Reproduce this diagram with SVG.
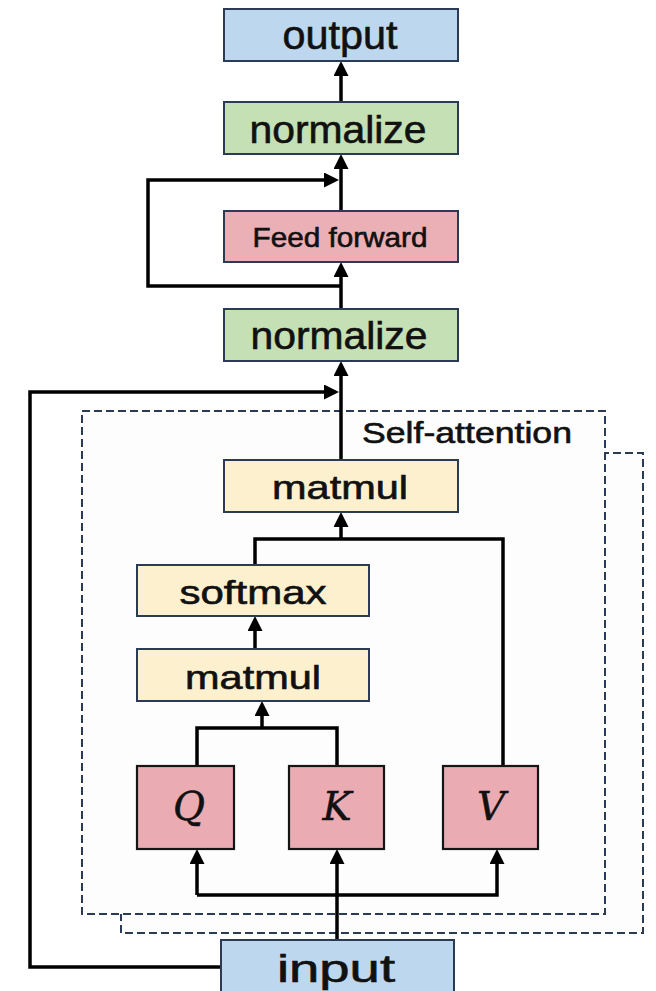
<svg xmlns="http://www.w3.org/2000/svg" width="656" height="991" viewBox="0 0 656 991">
  <defs>
    <marker id="arrow" markerUnits="userSpaceOnUse" markerWidth="15" markerHeight="15" viewBox="0 0 15 15" refX="7" refY="7.5" orient="auto">
      <path d="M0,0 L15,7.5 L0,15 Z" fill="#000"/>
    </marker>
    <style>
      .box { stroke: #2b3a55; stroke-width: 2; }
      .blue { fill: #bdd7ee; }
      .green { fill: #c5e0b4; }
      .pink { fill: #ebafb6; }
      .yellow { fill: #fdf0cf; }
      .qkv { fill: #eaabb2; stroke: #151515; stroke-width: 2.2; }
      .dash { fill: #fdfdfd; stroke: #2b3a55; stroke-width: 2; stroke-dasharray: 8 4; }
      .label { font-family: "Liberation Sans", Arial, sans-serif; fill: #111; stroke: #111; stroke-width: 0.6; text-anchor: middle; }
      .math { font-family: "DejaVu Serif", "Liberation Serif", serif; font-style: italic; fill: #111; stroke: #111; stroke-width: 0.5; text-anchor: middle; font-size: 39px; }
      .wire { fill: none; stroke: #000; stroke-width: 3.5; stroke-linejoin: miter; }
      .arr { marker-end: url(#arrow); }
    </style>
  </defs>
  <rect width="656" height="991" fill="#fff"/>

  <!-- stacked attention heads -->
  <g id="heads">
    <rect class="dash" x="121" y="453" width="522" height="480"/>
    <rect class="dash" x="82" y="411" width="523" height="503"/>
    <text class="label" x="362" y="443" font-size="29" style="text-anchor:start" textLength="210" lengthAdjust="spacingAndGlyphs">Self-attention</text>
  </g>

  <g id="connectors">
    <!-- encoder stack -->
    <path class="wire arr" d="M341,102 V69"/>
    <path class="wire arr" d="M341,211 V162"/>
    <path class="wire arr" d="M341,286 H148 V180 H331"/>
    <path class="wire arr" d="M341,309 V270"/>
    <path class="wire arr" d="M341,460 V369"/>
    <path class="wire arr" d="M221,967 H30 V392 H331"/>
    <!-- attention -->
    <path class="wire" d="M255,565 V539 H503 V766"/>
    <path class="wire arr" d="M341,539 V520"/>
    <path class="wire arr" d="M255,649 V624"/>
    <path class="wire" d="M197,766 V728 H337 V766"/>
    <path class="wire arr" d="M262,728 V709"/>
    <path class="wire arr" d="M337,940 V857"/>
    <path class="wire arr" d="M197,895 H497 V857"/>
    <path class="wire arr" d="M197,895 V857"/>
  </g>

  <g id="output">
    <rect class="box blue" x="224" y="9" width="234" height="52"/>
    <text class="label" x="340" y="49" font-size="40" textLength="115" lengthAdjust="spacingAndGlyphs">output</text>
  </g>
  <g id="normalize-top">
    <rect class="box green" x="224" y="102" width="234" height="52"/>
    <text class="label" x="338" y="143" font-size="38" textLength="177" lengthAdjust="spacingAndGlyphs">normalize</text>
  </g>
  <g id="feed-forward">
    <rect class="box pink" x="224" y="211" width="234" height="51"/>
    <text class="label" x="340" y="247" font-size="27" textLength="175" lengthAdjust="spacingAndGlyphs">Feed forward</text>
  </g>
  <g id="normalize-bottom">
    <rect class="box green" x="224" y="309" width="234" height="52"/>
    <text class="label" x="339" y="349" font-size="38" textLength="177" lengthAdjust="spacingAndGlyphs">normalize</text>
  </g>
  <g id="matmul-out">
    <rect class="box yellow" x="224" y="460" width="234" height="52"/>
    <text class="label" x="340" y="499" font-size="33" textLength="136" lengthAdjust="spacingAndGlyphs">matmul</text>
  </g>
  <g id="softmax">
    <rect class="box yellow" x="137" y="565" width="232" height="51"/>
    <text class="label" x="253" y="604" font-size="33" textLength="147" lengthAdjust="spacingAndGlyphs">softmax</text>
  </g>
  <g id="matmul-qk">
    <rect class="box yellow" x="137" y="649" width="232" height="52"/>
    <text class="label" x="253" y="689" font-size="33" textLength="136" lengthAdjust="spacingAndGlyphs">matmul</text>
  </g>
  <g id="q">
    <rect class="qkv" x="137" y="766" width="97" height="83"/>
    <text class="math" x="189" y="820">Q</text>
  </g>
  <g id="k">
    <rect class="qkv" x="289" y="766" width="95" height="83"/>
    <text class="math" x="337" y="820">K</text>
  </g>
  <g id="v">
    <rect class="qkv" x="443" y="766" width="95" height="83"/>
    <text class="math" x="491" y="820">V</text>
  </g>
  <g id="input">
    <rect class="box blue" x="221" y="940" width="233" height="60"/>
    <text class="label" x="336" y="982" font-size="38" textLength="118" lengthAdjust="spacingAndGlyphs">input</text>
  </g>
</svg>
